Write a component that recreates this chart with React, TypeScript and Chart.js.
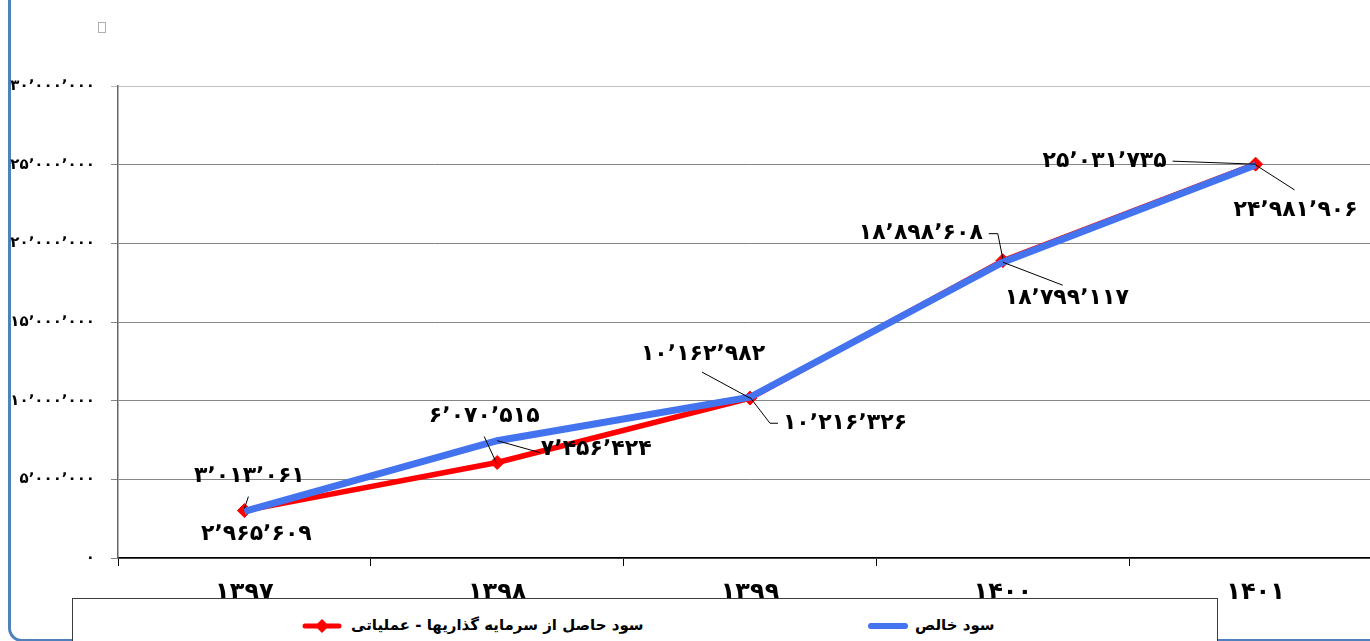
import React, { useEffect, useRef } from "react";
import { Chart, registerables } from "chart.js";

Chart.register(...registerables);

// ---- data ----
const categories = ["۱۳۹۷", "۱۳۹۸", "۱۳۹۹", "۱۴۰۰", "۱۴۰۱"];
const seriesOperatingName = "سود حاصل از سرمایه گذاریها - عملیاتی";
const seriesNetName = "سود خالص";
const operatingProfit = [3013061, 6070515, 10162982, 18898608, 25031735];
const netProfit = [2965609, 7456424, 10216326, 18799117, 24981906];
const yMin = 0;
const yMax = 30000000;
const yStep = 5000000;

// ---- label placement (styling, relative to each point) ----
type Place = { dx: number; dy: number; leader: number[][] };
const operatingPlaces: Place[] = [
  { dx: 5, dy: -34, leader: [[0, -2], [4, -14]] },
  { dx: -13, dy: -46, leader: [[-1, 0], [-13, -26]] },
  { dx: -47, dy: -44, leader: [[0, 0], [-48, -26]] },
  { dx: -82, dy: -27, leader: [[0, -2], [-5, -27], [-14, -27]] },
  { dx: -151, dy: -3, leader: [[0, 0], [-83, -3]] },
];
const netPlaces: Place[] = [
  { dx: 12, dy: 23, leader: [] },
  { dx: 99, dy: 9, leader: [[0, 0], [43, 12]] },
  { dx: 95, dy: 26, leader: [[0, 0], [20, 26], [28, 26]] },
  { dx: 64, dy: 36, leader: [[0, 0], [60, 23]] },
  { dx: 40, dy: 45, leader: [[0, 0], [39, 25]] },
];

const RED = "#ff0000";
const BLUE = "#4473ef";
const FONT = '"DejaVu Sans", sans-serif';

const faDigits = "۰۱۲۳۴۵۶۷۸۹";
function fa(n: number): string {
  return Math.round(n)
    .toLocaleString("en-US")
    .replace(/,/g, "٬")
    .replace(/\d/g, (d) => faDigits[+d]);
}

const labelPlugin = {
  id: "pointLabels",
  afterDatasetsDraw(chart: any) {
    const ctx = chart.ctx;
    const placesByDataset = [operatingPlaces, netPlaces];
    ctx.save();
    chart.data.datasets.forEach((ds: any, i: number) => {
      const meta = chart.getDatasetMeta(i);
      const places = placesByDataset[i];
      meta.data.forEach((pt: any, j: number) => {
        const p = places[j];
        if (!p) return;
        const x = pt.x;
        const y = pt.y;
        if (p.leader.length > 1) {
          ctx.beginPath();
          ctx.strokeStyle = "#000";
          ctx.lineWidth = 1;
          p.leader.forEach((q, k) => {
            if (k === 0) ctx.moveTo(x + q[0], y + q[1]);
            else ctx.lineTo(x + q[0], y + q[1]);
          });
          ctx.stroke();
        }
        ctx.fillStyle = "#000";
        ctx.font = `bold 22px ${FONT}`;
        ctx.textAlign = "center";
        ctx.textBaseline = "middle";
        ctx.fillText(fa(ds.data[j]), x + p.dx, y + p.dy);
      });
    });
    ctx.restore();
  },
};

function LegendMarker({ color, diamond }: { color: string; diamond: boolean }) {
  return (
    <svg width={40} height={16} style={{ display: "block" }}>
      <line
        x1={3}
        y1={8}
        x2={37}
        y2={8}
        stroke={color}
        strokeWidth={diamond ? 5 : 6}
        strokeLinecap="round"
      />
      {diamond && <polygon points="20,1 27,8 20,15 13,8" fill={color} />}
    </svg>
  );
}

export default function App() {
  const canvasRef = useRef<HTMLCanvasElement | null>(null);

  useEffect(() => {
    const canvas = canvasRef.current;
    if (!canvas) return;
    const chart = new Chart(canvas, {
      type: "line",
      data: {
        labels: categories,
        datasets: [
          {
            label: seriesOperatingName,
            data: operatingProfit,
            borderColor: RED,
            backgroundColor: RED,
            borderWidth: 5.5,
            pointStyle: "rectRot",
            pointRadius: 7,
            pointBackgroundColor: RED,
            pointBorderColor: RED,
            pointBorderWidth: 1,
            tension: 0,
            order: 1,
          },
          {
            label: seriesNetName,
            data: netProfit,
            borderColor: BLUE,
            backgroundColor: BLUE,
            borderWidth: 7,
            pointRadius: 0,
            tension: 0,
            order: 0,
          },
        ],
      },
      options: {
        animation: false,
        responsive: false,
        maintainAspectRatio: false,
        layout: { padding: { top: 86, right: 18, left: 0, bottom: 0 } },
        plugins: {
          legend: { display: false },
          tooltip: { enabled: false },
          title: { display: false },
        },
        scales: {
          x: {
            type: "category",
            offset: true,
            grid: {
              offset: true,
              drawOnChartArea: false,
              drawTicks: true,
              tickLength: 8,
              color: "#000",
            },
            border: { color: "#000", width: 1.5 },
            ticks: {
              color: "#000",
              font: { family: FONT, size: 24, weight: "bold" },
              padding: 12,
              maxRotation: 0,
            },
            afterFit: (s: any) => {
              s.height = 83;
            },
          },
          y: {
            min: yMin,
            max: yMax,
            ticks: {
              stepSize: yStep,
              color: "#000",
              font: { family: FONT, size: 15, weight: "bold" },
              padding: 16,
              callback: (v: any) => fa(Number(v)),
            },
            grid: {
              color: (c: any) => (c.tick && c.tick.value === yMax ? "#c0c0c0" : "#868686"),
              lineWidth: 1,
              tickLength: 7,
            },
            border: { color: "#666", width: 1.5 },
            afterFit: (s: any) => {
              s.width = 118;
            },
          },
        },
      },
      plugins: [labelPlugin],
    } as any);
    return () => chart.destroy();
  }, []);

  return (
    <div
      style={{
        position: "absolute",
        left: 0,
        top: 0,
        width: 1370,
        height: 641,
        overflow: "hidden",
        background: "#fff",
      }}
    >
      <div
        style={{
          position: "absolute",
          left: 8,
          top: -30,
          width: 1420,
          height: 672,
          boxSizing: "border-box",
          border: "3px solid #4f81bd",
          borderRadius: 14,
        }}
      />
      <div
        style={{
          position: "absolute",
          left: 98,
          top: 22,
          width: 6,
          height: 9,
          border: "1px solid #b0b0b0",
        }}
      />
      <canvas
        ref={canvasRef}
        width={1400}
        height={641}
        style={{ position: "absolute", left: 0, top: 0, width: 1400, height: 641 }}
      />
      <div
        style={{
          position: "absolute",
          left: 72,
          top: 598,
          width: 1146,
          height: 60,
          boxSizing: "border-box",
          border: "1px solid #3c3c3c",
          background: "#fff",
          fontFamily: FONT,
          fontWeight: "bold",
          fontSize: 15,
          color: "#000",
        }}
      >
        <div style={{ position: "absolute", left: 229, top: 19 }}>
          <LegendMarker color={RED} diamond={true} />
        </div>
        <div style={{ position: "absolute", left: 278, top: 17, whiteSpace: "nowrap" }}>
          {seriesOperatingName}
        </div>
        <div style={{ position: "absolute", left: 795, top: 19 }}>
          <LegendMarker color={BLUE} diamond={false} />
        </div>
        <div style={{ position: "absolute", left: 842, top: 17, whiteSpace: "nowrap" }}>
          {seriesNetName}
        </div>
      </div>
    </div>
  );
}
